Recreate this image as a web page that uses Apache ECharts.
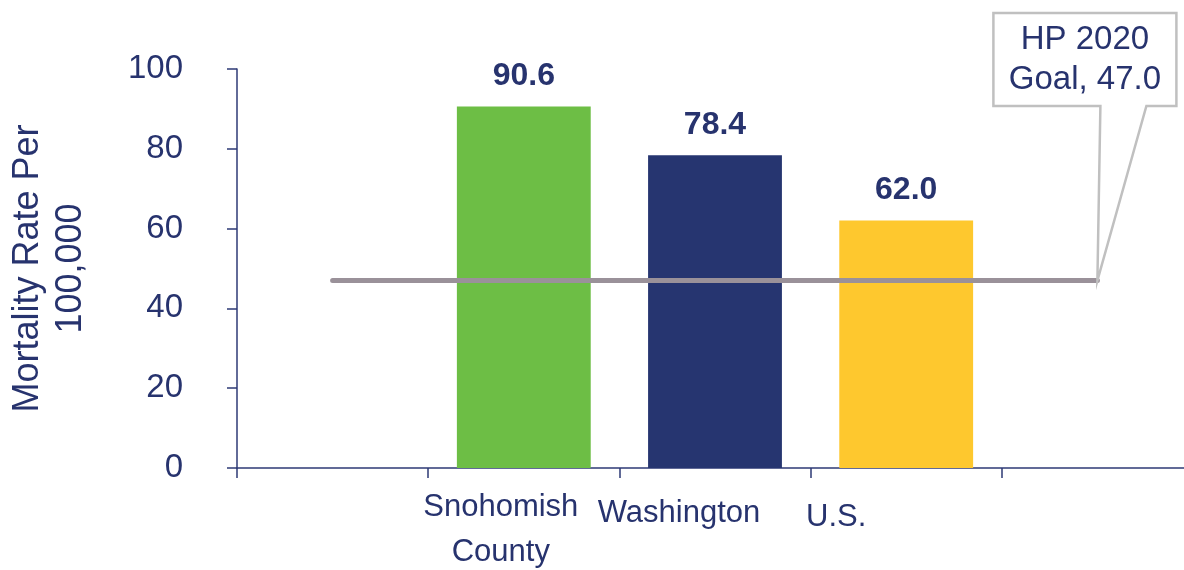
<!DOCTYPE html>
<html>
<head>
<meta charset="utf-8">
<script src="https://cdn.jsdelivr.net/npm/echarts@6/dist/echarts.min.js"></script>
<style>
  html, body { margin: 0; padding: 0; background: #ffffff; }
  #chart { width: 1184px; height: 570px; }
</style>
</head>
<body>
<div id="chart"></div>
<script>
// Mortality rate per 100,000, by area, with the Healthy People 2020 target
const areas = ['Snohomish\nCounty', 'Washington', 'U.S.'];
const rates = [90.6, 78.4, 62.0];
const barColors = ['#6dbe45', '#263570', '#fec82e'];
const goalValue = 47.0;
const goalText = 'HP 2020\nGoal, 47.0';
const yTicks = { min: 0, max: 100, interval: 20 };

const navy = '#27336e';
const font = '"Liberation Sans", Arial, sans-serif';

// one empty slot on each side so the target line spans past the bars
const slots = [''].concat(areas, ['']);
const labelShift = [
  {},
  { padding: [0, 46, 0, 0] },
  { padding: [6, 72, 0, 0] },
  { padding: [10, 140, 0, 0] },
  {}
];
const axisData = slots.map((s, i) => ({ value: s, textStyle: labelShift[i] }));
const barData = [null].concat(
  rates.map((v, i) => ({ value: v, itemStyle: { color: barColors[i] } })),
  [null]
);
const goalData = slots.map(() => goalValue);

const chart = echarts.init(document.getElementById('chart'), null, { renderer: 'canvas' });

chart.setOption({
  animation: false,
  grid: {
    left: 237, top: 69, bottom: 102, right: -9,
    containLabel: false,
    outerBoundsMode: 'none'
  },
  xAxis: {
    type: 'category',
    data: axisData,
    boundaryGap: true,
    axisLine: { lineStyle: { color: '#2e3a76', width: 1.5 } },
    axisTick: { show: true, length: 10, alignWithLabel: false, lineStyle: { color: '#2e3a76', width: 1.5 } },
    axisLabel: {
      interval: 0,
      color: navy,
      fontFamily: font,
      fontSize: 31,
      lineHeight: 45,
      margin: 17
    }
  },
  yAxis: {
    type: 'value',
    min: yTicks.min,
    max: yTicks.max,
    interval: yTicks.interval,
    name: 'Mortality Rate Per\n100,000',
    nameLocation: 'middle',
    nameGap: 144,
    nameTextStyle: { color: navy, fontFamily: font, fontSize: 36, lineHeight: 43 },
    splitLine: { show: false },
    axisLine: { show: true, lineStyle: { color: '#2e3a76', width: 1.5 } },
    axisTick: { show: true, length: 10, lineStyle: { color: '#2e3a76', width: 1.5 } },
    axisLabel: { color: navy, fontFamily: font, fontSize: 33, margin: 54 }
  },
  series: [
    {
      type: 'bar',
      data: barData,
      barWidth: '70%',
      label: {
        show: true,
        position: 'top',
        distance: 14,
        color: navy,
        fontFamily: font,
        fontWeight: 'bold',
        fontSize: 32,
        formatter: p => p.value.toFixed(1)
      }
    },
    {
      type: 'line',
      data: goalData,
      symbol: 'none',
      lineStyle: { color: '#9a9199', width: 5, cap: 'round' },
      z: 3
    }
  ]
});

// callout box pointing to the end of the target line
const end = chart.convertToPixel({ seriesIndex: 1 }, [slots.length - 1, goalValue]);
const bx0 = end[0] - 104, bx1 = end[0] + 79, by0 = 13, by1 = 106;
chart.setOption({
  graphic: [
    {
      type: 'polygon',
      shape: {
        points: [
          [bx0, by0], [bx1, by0], [bx1, by1],
          [end[0] + 49, by1], [end[0], end[1]], [end[0] + 3, by1],
          [bx0, by1]
        ]
      },
      style: { fill: '#ffffff', stroke: '#c0c0c0', lineWidth: 2.5 },
      z: 10
    },
    {
      type: 'text',
      x: (bx0 + bx1) / 2,
      y: (by0 + by1) / 2,
      style: {
        text: goalText,
        fill: navy,
        font: '33px ' + font,
        lineHeight: 40,
        align: 'center',
        verticalAlign: 'middle'
      },
      z: 11
    }
  ]
});
</script>
</body>
</html>
